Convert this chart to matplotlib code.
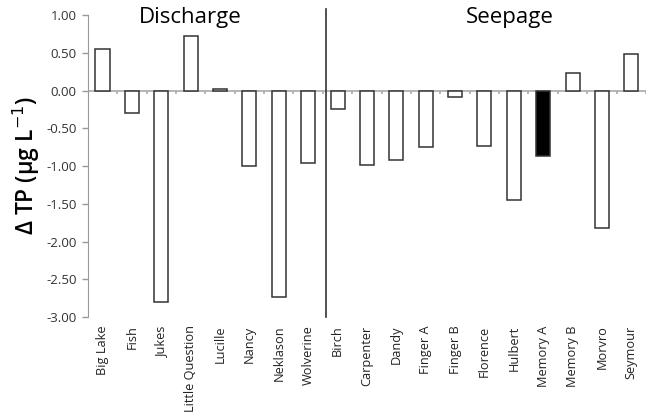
import matplotlib
matplotlib.use("Agg")
import matplotlib.pyplot as plt
import numpy as np

plt.rcParams['font.family'] = ['Open Sans', 'DejaVu Sans']

categories = ["Big Lake", "Fish", "Jukes", "Little Question", "Lucille", "Nancy",
              "Neklason", "Wolverine", "Birch", "Carpenter", "Dandy", "Finger A",
              "Finger B", "Florence", "Hulbert", "Memory A", "Memory B", "Morvro", "Seymour"]
values = [0.55, -0.30, -2.80, 0.73, 0.02, -1.00, -2.74, -0.96,
          -0.24, -0.98, -0.92, -0.75, -0.08, -0.73, -1.45, -0.87, 0.23, -1.82, 0.48]
highlight = "Memory A"
n_discharge = 8
yticks = [1.0, 0.5, 0.0, -0.5, -1.0, -1.5, -2.0, -2.5, -3.0]

fig = plt.figure(figsize=(6.46, 4.2), dpi=100)
ax = fig.add_axes([0.136, 0.245, 0.864, 0.719])

x = np.arange(len(categories))
colors = ['black' if c == highlight else 'white' for c in categories]
ax.bar(x, values, width=0.48, color=colors, edgecolor='#333333', linewidth=1.1, zorder=3)

ax.set_xlim(-0.5, len(categories) - 0.5)
ax.set_ylim(-3.0, 1.0)
ax.set_yticks(yticks)
ax.set_yticklabels([f"{v:.2f}" for v in yticks], fontsize=9.5, color='#333333')
ax.set_xticks(x)
ax.set_xticklabels(categories, rotation=90, fontsize=9.2, color='#222222')
ax.tick_params(axis='x', length=0, pad=6)
ax.tick_params(axis='y', length=4, color='#999999', direction='out', width=1, pad=4)

for s in ['top', 'right', 'bottom']:
    ax.spines[s].set_visible(False)
ax.spines['left'].set_color('#999999')

# zero line with small ticks between categories
ax.axhline(0, color='#aaaaaa', linewidth=1.2, zorder=1)
bounds = np.arange(len(categories) + 1) - 0.5
ax.vlines(bounds, -0.04, 0, color='#aaaaaa', linewidth=1.2, zorder=1)

# divider between groups
ax.plot([n_discharge - 0.4, n_discharge - 0.4], [-3.0, 1.08], color='#333333',
        linewidth=1.2, clip_on=False, zorder=2)

ax.text(3.0, 0.97, "Discharge", ha='center', va='center', fontsize=16)
ax.text(13.87, 0.97, "Seepage", ha='center', va='center', fontsize=16)

ax.set_ylabel("Δ TP (µg L$^{-1}$)", fontsize=16.5, fontweight='semibold', labelpad=3)

fig.savefig("out.png", dpi=100)
